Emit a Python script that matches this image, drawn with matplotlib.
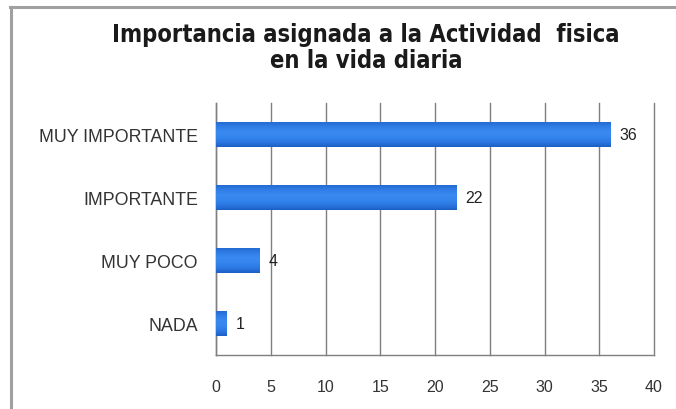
import matplotlib
matplotlib.use("Agg")
import matplotlib.pyplot as plt
import numpy as np
from matplotlib.lines import Line2D
from matplotlib.colors import LinearSegmentedColormap
from matplotlib import font_manager

categories = ["MUY IMPORTANTE", "IMPORTANTE", "MUY POCO", "NADA"]
values = [36, 22, 4, 1]
x_ticks = [0, 5, 10, 15, 20, 25, 30, 35, 40]
title = "Importancia asignada a la Actividad  fisica\nen la vida diaria"

fig = plt.figure(figsize=(6.76, 4.10), dpi=100)
fig.patch.set_facecolor("white")
ax = fig.add_axes([216 / 676, 1 - 356 / 410, (654 - 216) / 676, (356 - 104) / 410])

# frame of the chart area (top and left edges)
fig.add_artist(Line2D([10 / 676, 1.0], [1 - 7.5 / 410] * 2, color="#a0a0a0", lw=2.2))
fig.add_artist(Line2D([11 / 676] * 2, [0.0, 1 - 7.5 / 410], color="#a0a0a0", lw=2.2))

ypos = np.arange(len(categories))[::-1]
bar_h = 0.40
bars = ax.barh(ypos, values, height=bar_h, color="#2f7be6", edgecolor="none", zorder=3)

# vertical shading on each bar: light top, deeper blue bottom
cmap = LinearSegmentedColormap.from_list(
    "barshade", ["#1d5fc4", "#2c79e4", "#3586ee", "#3a89f0", "#2f7ce6", "#2167cc"])
grad = np.linspace(0, 1, 64).reshape(-1, 1)
for b, y, v in zip(bars, ypos, values):
    im = ax.imshow(grad, aspect="auto", cmap=cmap, origin="lower",
                   extent=[0, v, y - bar_h / 2, y + bar_h / 2], zorder=4)
    im.set_clip_path(b)
    ax.text(v + 0.8, y, str(v), va="center", ha="left", fontsize=11.5,
            family="Liberation Sans", color="#222222", zorder=5)

ax.set_xlim(0, 40)
ax.set_ylim(-0.5, len(categories) - 0.5)
ax.set_xticks(x_ticks)
ax.set_yticks(ypos)
ax.set_yticklabels(categories)
ax.tick_params(axis="both", length=0, colors="#333333")
ax.tick_params(axis="x", pad=17)
ax.tick_params(axis="y", pad=13)
for lab in ax.get_xticklabels():
    lab.set_family("Liberation Sans")
    lab.set_fontsize(11.5)
for lab in ax.get_yticklabels():
    lab.set_family("Liberation Sans")
    lab.set_fontsize(12.8)
ax.xaxis.grid(True, color="#7f7f7f", lw=1.0, zorder=1)
for gl in ax.get_xgridlines():
    gl.set_clip_on(False)
ax.set_axisbelow(True)
for s in ["top", "right"]:
    ax.spines[s].set_visible(False)
for s in ["left", "bottom"]:
    ax.spines[s].set_color("#7f7f7f")
    ax.spines[s].set_linewidth(1.0)

title_font = font_manager.FontProperties(family="DejaVu Sans", stretch="condensed",
                                         weight="bold", size=17)
fig.text(366 / 676, 1 - 48 / 410, title, ha="center", va="center",
         fontproperties=title_font, color="#1a1a1a", linespacing=1.15)

fig.savefig("out.png", dpi=100)
